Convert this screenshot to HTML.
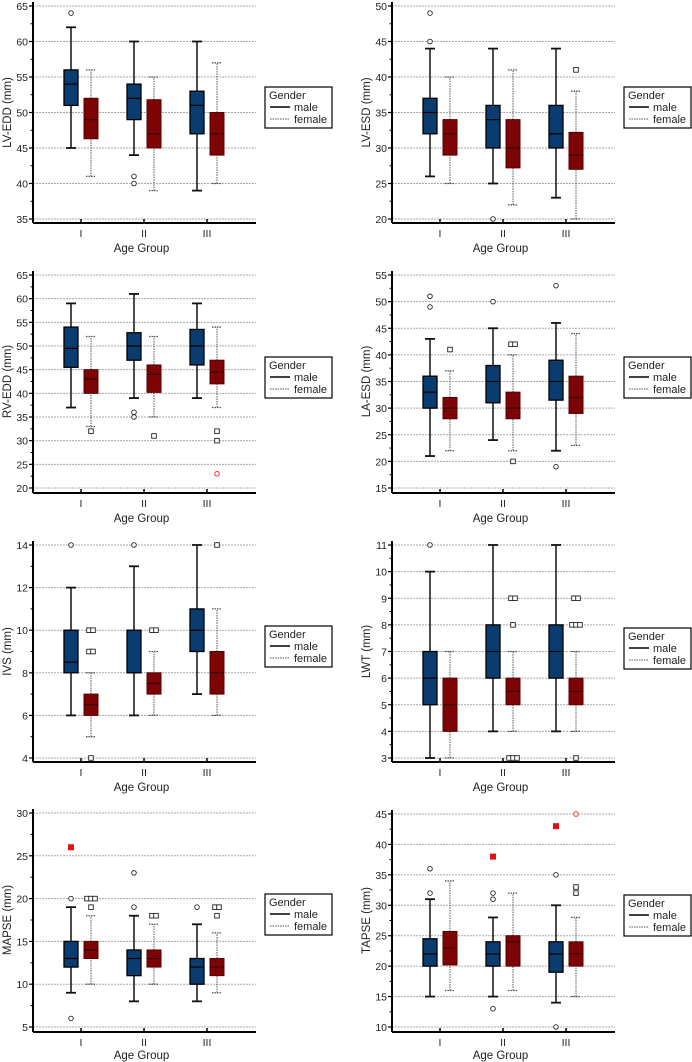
<!DOCTYPE html>
<html><head><meta charset="utf-8"><style>
body{margin:0;background:#fff;}
svg{display:block;font-family:"Liberation Sans",Arial,sans-serif;}
</style></head><body>
<svg id="fig" width="692" height="1062" viewBox="0 0 692 1062"></svg>
<script>
// Data: each box = [whiskerLow, q1, median, q3, whiskerHigh] for groups I, II, III
const groups = ["I","II","III"];
const lvEddMale   = [[45,51,54,56,62],[44,49,52,54,60],[39,47,51,53,60]];
const lvEddFemale = [[41,46.3,49,52,56],[39,45,47,51.8,55],[40,44,47,50,57]];
const lvEsdMale   = [[26,32,35,37,44],[25,30,34,36,44],[23,30,32,36,44]];
const lvEsdFemale = [[25,29,32,34,40],[22,27.2,30,34,41],[20,27,29,32.2,38]];
const rvEddMale   = [[37,45.5,49.5,54,59],[39,47,50,52.8,61],[39,46,50,53.5,59]];
const rvEddFemale = [[33,40,43,45,52],[35,40.2,44,46,52],[37,42,44.5,47,54]];
const laEsdMale   = [[21,30,33,36,43],[24,31,35,38,45],[22,31.5,35,39,46]];
const laEsdFemale = [[22,28,30,32,37],[22,28,30,33,40],[23,29,32,36,44]];
const ivsMale     = [[6,8,8.5,10,12],[6,8,8,10,13],[7,9,10,11,14]];
const ivsFemale   = [[5,6,6.5,7,8],[6,7,7.5,8,9],[6,7,8,9,11]];
const lwtMale     = [[3,5,6,7,10],[4,6,7,8,11],[4,6,7,8,11]];
const lwtFemale   = [[3,4,5,6,7],[4,5,5.5,6,7],[4,5,5.5,6,7]];
const mapseMale   = [[9,12,13,15,19],[8,11,13,14,18],[8,10,12,13,17]];
const mapseFemale = [[10,13,14,15,18],[10,12,13,14,17],[9,11,12,13,16]];
const tapseMale   = [[15,20,22,24.5,31],[15,20,22,24,28],[14,19,22,24,30]];
const tapseFemale = [[16,20.2,23,25.7,34],[16,20,24,25,32],[15,20,22,24,28]];
// Outliers: [groupIndex, gender(0 male,1 female), value, kind]
const lvEddOut = [[0,0,64,"c"],[1,0,41,"c"],[1,0,40,"c"]];
const lvEsdOut = [[0,0,49,"c"],[0,0,45,"c"],[1,0,20,"c"],[2,1,41,"s"]];
const rvEddOut = [[0,1,32,"s"],[1,0,36,"c"],[1,0,35,"c"],[1,1,31,"s"],[2,1,32,"s"],[2,1,30,"s"],[2,1,23,"rc"]];
const laEsdOut = [[0,0,51,"c"],[0,0,49,"c"],[0,1,41,"s"],[1,0,50,"c"],[1,1,42,"s"],[1,1,42,"s"],[1,1,20,"s"],[2,0,53,"c"],[2,0,19,"c"]];
const ivsOut   = [[0,0,14,"c"],[0,1,10,"s"],[0,1,10,"s"],[0,1,9,"s"],[0,1,9,"s"],[0,1,4,"s"],[1,0,14,"c"],[1,1,10,"s"],[1,1,10,"s"],[2,1,14,"s"]];
const lwtOut   = [[0,0,11,"c"],[1,1,9,"s"],[1,1,9,"s"],[1,1,8,"s"],[1,1,3,"s"],[1,1,3,"s"],[1,1,3,"s"],[2,1,9,"s"],[2,1,9,"s"],[2,1,8,"s"],[2,1,8,"s"],[2,1,8,"s"],[2,1,3,"s"]];
const mapseOut = [[0,0,26,"rs"],[0,0,20,"c"],[0,0,6,"c"],[0,1,20,"s"],[0,1,20,"s"],[0,1,20,"s"],[0,1,19,"s"],[1,0,23,"c"],[1,0,19,"c"],[1,1,18,"s"],[1,1,18,"s"],[2,0,19,"c"],[2,1,19,"s"],[2,1,19,"s"],[2,1,18,"s"]];
const tapseOut = [[0,0,36,"c"],[0,0,32,"c"],[1,0,38,"rs"],[1,0,32,"c"],[1,0,31,"c"],[1,0,13,"c"],[2,0,43,"rs"],[2,0,35,"c"],[2,0,10,"c"],[2,1,45,"rc"],[2,1,33,"s"],[2,1,32,"s"]];

const panels = [
 {id:"lv-edd",label:"LV-EDD (mm)",min:35,max:65,step:5,minor:0,col:0,top:6,bot:219,axis:223,m:lvEddMale,f:lvEddFemale,o:lvEddOut,leg:87},
 {id:"lv-esd",label:"LV-ESD (mm)",min:20,max:50,step:5,minor:0,col:1,top:6,bot:219,axis:223,m:lvEsdMale,f:lvEsdFemale,o:lvEsdOut,leg:87},
 {id:"rv-edd",label:"RV-EDD (mm)",min:20,max:65,step:5,minor:0,col:0,top:275,bot:488,axis:493,m:rvEddMale,f:rvEddFemale,o:rvEddOut,leg:357},
 {id:"la-esd",label:"LA-ESD (mm)",min:15,max:55,step:5,minor:0,col:1,top:275,bot:488,axis:493,m:laEsdMale,f:laEsdFemale,o:laEsdOut,leg:357},
 {id:"ivs",label:"IVS (mm)",min:4,max:14,step:2,minor:1,col:0,top:545,bot:758,axis:762,m:ivsMale,f:ivsFemale,o:ivsOut,leg:626},
 {id:"lwt",label:"LWT (mm)",min:3,max:11,step:1,minor:0.5,col:1,top:545,bot:758,axis:762,m:lwtMale,f:lwtFemale,o:lwtOut,leg:628},
 {id:"mapse",label:"MAPSE (mm)",min:5,max:30,step:5,minor:0,col:0,top:813,bot:1027,axis:1032,m:mapseMale,f:mapseFemale,o:mapseOut,leg:894},
 {id:"tapse",label:"TAPSE (mm)",min:10,max:45,step:5,minor:0,col:1,top:814,bot:1027,axis:1032,m:tapseMale,f:tapseFemale,o:tapseOut,leg:895}
];
const NS="http://www.w3.org/2000/svg";
const svg=document.getElementById("fig");
function mk(tag,attrs,parent){const e=document.createElementNS(NS,tag);for(const k in attrs)e.setAttribute(k,attrs[k]);(parent||svg).appendChild(e);return e;}
const BLUE="#0b3c70", RED="#7c0404";
panels.forEach(p=>{
  const g=mk("g",{});
  
  
  const ax=p.col?392:33, xe=p.col?615:256;
  const gx=p.col?[440,503,566]:[81,144,207];
  const y=v=>p.bot-(v-p.min)/(p.max-p.min)*(p.bot-p.top);
  for(let v=p.min;v<=p.max+1e-9;v+=p.step){
    const gl=mk("line",{x1:ax,x2:xe,y1:y(v),y2:y(v),stroke:"#aaa","stroke-width":1,"stroke-dasharray":"2,1"},g);
    
    
    mk("line",{x1:ax-4,x2:ax,y1:y(v),y2:y(v),stroke:"#000","stroke-width":1.2},g);
    const t=mk("text",{x:ax-5,y:y(v)+4,"text-anchor":"end","font-size":10.5,fill:"#222"},g);
    t.textContent=v;
    
    
  }
  const ms=p.minor||p.step/2;
  for(let v=p.min+ms;v<p.max;v+=p.step){mk("line",{x1:ax-2.5,x2:ax,y1:y(v),y2:y(v),stroke:"#000","stroke-width":1},g);}
  mk("line",{x1:ax,x2:ax,y1:p.top-4,y2:p.axis,stroke:"#000","stroke-width":2},g);
  mk("line",{x1:ax,x2:xe,y1:p.axis,y2:p.axis,stroke:"#000","stroke-width":2},g);
  gx.forEach((x,i)=>{
    mk("line",{x1:x,x2:x,y1:p.axis-4,y2:p.axis,stroke:"#000","stroke-width":1.5},g);
    const t=mk("text",{x:x,y:p.axis+14,"text-anchor":"middle","font-size":10.5,fill:"#222"},g);
    t.textContent=groups[i];
    
    
  });
  const xt=mk("text",{x:(ax+xe)/2-3,y:Math.min(p.axis+29,1059),"text-anchor":"middle","font-size":11.5,fill:"#222"},g);
  xt.textContent="Age Group";
  
  
  const yc=(p.top+p.bot)/2, tx=ax-22;
  const yt=mk("text",{x:tx,y:yc,"text-anchor":"middle","font-size":11.5,fill:"#222",transform:`rotate(-90 ${tx} ${yc})`},g);
  yt.textContent=p.label;
  
  
  [[p.m,-10,BLUE,false],[p.f,10,RED,true]].forEach(([arr,off,col,fem])=>{
    arr.forEach((b,i)=>{
      const cx=gx[i]+off, w=14;
      const dash=fem?{"stroke-dasharray":"1.5,1"}:{};
      const wc=fem?"#555":"#111", ww=fem?1:1.5;
      mk("line",Object.assign({x1:cx,x2:cx,y1:y(b[0]),y2:y(b[1]),stroke:wc,"stroke-width":ww},dash),g);
      mk("line",Object.assign({x1:cx,x2:cx,y1:y(b[3]),y2:y(b[4]),stroke:wc,"stroke-width":ww},dash),g);
      mk("line",Object.assign({x1:cx-5,x2:cx+5,y1:y(b[0]),y2:y(b[0]),stroke:wc,"stroke-width":ww+0.3},dash),g);
      mk("line",Object.assign({x1:cx-5,x2:cx+5,y1:y(b[4]),y2:y(b[4]),stroke:wc,"stroke-width":ww+0.3},dash),g);
      const r=mk("rect",{x:cx-w/2,y:y(b[3]),width:w,height:y(b[1])-y(b[3]),fill:col,stroke:fem?"#5a0000":"#000","stroke-width":fem?1:1.3},g);
      
      
      mk("line",{x1:cx-w/2,x2:cx+w/2,y1:y(b[2]),y2:y(b[2]),stroke:fem?"#3a0000":"#000","stroke-width":1.2},g);
    });
  });
  const seen={};
  p.o.forEach(([gi,gen,v,k])=>{
    const key=gi+"_"+gen+"_"+v;
    const n=p.o.filter(o=>o[0]===gi&&o[1]===gen&&o[2]===v).length;
    seen[key]=(seen[key]||0);
    const idx=seen[key]++;
    const cx=gx[gi]+(gen?10:-10)+(idx-(n-1)/2)*4;
    const cy=y(v);
    let e;
    if(k==="c") e=mk("circle",{cx:cx,cy:cy,r:2.3,fill:"#fff",stroke:"#222","stroke-width":0.9},g);
    else if(k==="rc") e=mk("circle",{cx:cx,cy:cy,r:2.3,fill:"#fff",stroke:"#e22","stroke-width":0.9},g);
    else if(k==="s") e=mk("rect",{x:cx-2.3,y:cy-2.3,width:4.6,height:4.6,fill:"#fff",stroke:"#222","stroke-width":0.9},g);
    else e=mk("rect",{x:cx-3,y:cy-3,width:6,height:6,fill:"#e21010"},g);
    
    
  });
  const lx=p.col?624:265, ly=p.leg;
  const lg=mk("g",{},g);
  
  
  mk("rect",{x:lx,y:ly,width:67,height:41,fill:"#fff",stroke:"#000","stroke-width":1.2},lg);
  const t1=mk("text",{x:lx+4,y:ly+12,"font-size":11,fill:"#222"},lg); t1.textContent="Gender";
  mk("line",{x1:lx+5,x2:lx+25,y1:ly+20,y2:ly+20,stroke:"#000","stroke-width":1.5},lg);
  const t2=mk("text",{x:lx+29,y:ly+24,"font-size":11,fill:"#222"},lg); t2.textContent="male";
  
  
  mk("line",{x1:lx+5,x2:lx+25,y1:ly+32,y2:ly+32,stroke:"#555","stroke-width":1,"stroke-dasharray":"1.5,1"},lg);
  const t3=mk("text",{x:lx+29,y:ly+36,"font-size":11,fill:"#222"},lg); t3.textContent="female";
  
  
});
</script>
</body></html>
